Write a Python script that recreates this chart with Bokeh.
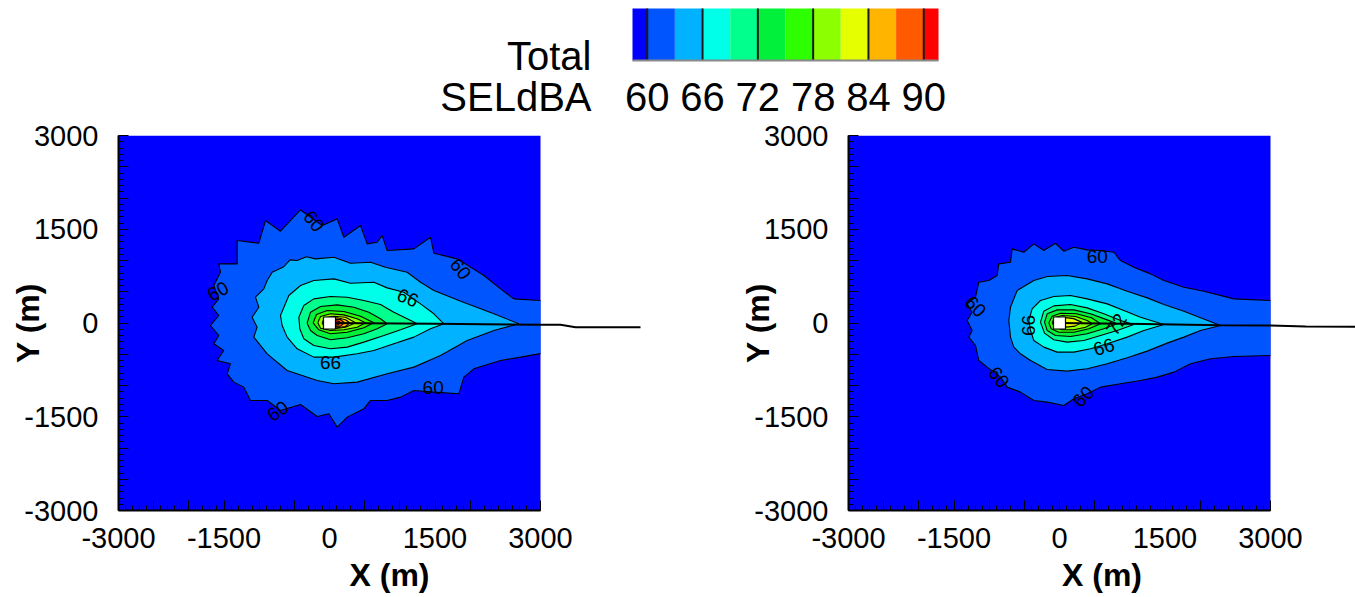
import math

from bokeh.core.properties import value
from bokeh.embed import file_html
from bokeh.layouts import column, row
from bokeh.models import CustomJSTickFormatter, FixedTicker, Range1d
from bokeh.plotting import figure
from bokeh.resources import INLINE

FONT = "Liberation Sans"

# ---------------------------------------------------------------- legend data
levels = [60, 63, 66, 69, 72, 75, 78, 81, 84, 87, 90]
band_colors = ["#0000ff", "#0055ff", "#00b2ff", "#00ffe8", "#00ff8c", "#00f03c",
               "#2eff00", "#8cff00", "#e6ff00", "#ffb400", "#ff5a00", "#ff0000"]
bar_lo, bar_hi = 58.4, 91.6
cbar_ticks = [60, 66, 72, 78, 84, 90]
legend_title = ["Total", "SELdBA"]

# ------------------------------------------------- left panel: contour outlines (m)
left_60 = [(3000, -490), (2716, -546), (2432, -600), (2052, -733), (1910, -866), (1839, -1133),
           (1484, -1106), (1199, -1079), (1010, -1186), (820, -1239), (583, -1239), (488, -1373),
           (251, -1506), (109, -1666), (-9, -1452), (-175, -1495), (-412, -1303), (-697, -1399),
           (-886, -1239), (-1123, -1239), (-1218, -1026), (-1360, -946), (-1455, -813),
           (-1408, -653), (-1597, -600), (-1503, -440), (-1645, -333), (-1574, -200),
           (-1692, -40), (-1574, 120), (-1668, 253), (-1574, 386), (-1645, 600), (-1550, 813),
           (-1574, 946), (-1313, 946), (-1313, 1319), (-1005, 1277), (-910, 1639), (-697, 1469),
           (-412, 1809), (-104, 1559), (109, 1666), (204, 1372), (441, 1559), (536, 1266),
           (678, 1292), (749, 1399), (820, 1159), (1199, 1186), (1436, 1372), (1484, 1117),
           (1815, 1026), (2195, 760), (2432, 546), (2621, 386), (3000, 360)]
left_63 = [(-815, 813), (-650, 900), (-560, 1010), (-460, 999), (-330, 1060), (-199, 1026),
           (62, 1052), (299, 957), (583, 973), (796, 893), (1104, 813), (1294, 653), (1484, 520),
           (1839, 360), (2337, 147), (2692, -13), (2337, -120), (1958, -280), (1578, -520),
           (1199, -706), (820, -813), (393, -946), (62, -973), (-175, -919), (-602, -760),
           (-886, -493), (-1076, -226), (-1029, -67), (-1100, 93), (-1005, 253), (-1052, 413),
           (-934, 546), (-886, 680)]
left_66 = [(-697, 120), (-578, 440), (-412, 600), (-223, 680), (62, 706), (299, 637), (630, 653),
           (820, 562), (1057, 493), (1294, 306), (1484, 147), (1626, -13), (1436, -93),
           (1199, -226), (915, -333), (630, -440), (393, -493), (62, -546), (-223, -546),
           (-460, -413), (-602, -226), (-673, -40)]
left_69 = [(-436, 93), (-365, 280), (-223, 386), (14, 424), (251, 413), (488, 360), (725, 296),
           (915, 173), (1104, 67), (1247, -13), (1010, -109), (773, -200), (488, -306),
           (251, -386), (14, -413), (-223, -360), (-365, -253), (-422, -93)]
left_72 = [(-318, -3), (-270, 173), (-128, 264), (109, 290), (346, 253), (559, 173), (725, 67),
           (820, -13), (678, -93), (488, -173), (251, -237), (14, -269), (-175, -200), (-270, -120)]
left_75 = [(-232, 3), (-185, 136), (-33, 200), (204, 184), (441, 109), (630, 3), (488, -77),
           (251, -147), (14, -173), (-152, -109)]
left_78 = [(-166, 3), (-128, 104), (14, 147), (204, 130), (393, 67), (512, 3), (393, -67),
           (204, -109), (14, -120), (-128, -83)]
left_81 = [(-104, 3), (-71, 83), (62, 109), (228, 93), (370, 3), (228, -67), (62, -93), (-71, -67)]
left_84 = [(-33, 67), (109, 83), (228, 53), (289, 3), (228, -56), (109, -77), (-33, -67)]
left_87 = [(38, 56), (156, 56), (213, 3), (156, -50), (38, -56)]
left_90 = [(62, 40), (133, 29), (156, 3), (118, -29), (62, -35)]

left_track_x = [0, 1500, 3000, 3285, 3498, 4422]
left_track_y = [0, -12, -29, -29, -67, -67]

left_label_x = [-223, 1863, -1588, 1114, 14, 1474, -735]
left_label_y = [1628, 866, 509, 402, -637, -1026, -1410]
left_label_text = ["60", "60", "60", "66", "66", "60", "60"]
left_label_angle = [-0.9, -0.9, 0.5, -0.4, 0.0, 0.0, 0.6]

# ------------------------------------------------ right panel: contour outlines (m)
right_60 = [(3000, 360), (2479, 386), (2052, 509), (1768, 573), (1484, 680), (1294, 786),
            (1057, 893), (867, 999), (773, 1132), (583, 1159), (393, 1170), (204, 1212),
            (62, 1148), (-57, 1276), (-223, 1159), (-365, 1266), (-507, 1132), (-673, 1186),
            (-697, 973), (-863, 946), (-886, 760), (-1005, 680), (-1147, 653), (-1194, 413),
            (-1313, 306), (-1242, 173), (-1313, 40), (-1242, -120), (-1289, -226), (-1194, -360),
            (-1147, -600), (-1029, -706), (-839, -866), (-744, -1026), (-555, -1106),
            (-365, -1239), (-175, -1266), (62, -1319), (204, -1212), (393, -1133), (583, -1026),
            (867, -973), (1152, -919), (1389, -866), (1626, -786), (1863, -653), (2147, -573),
            (2479, -536), (3000, -520)]
right_63 = [(-720, 40), (-697, 253), (-602, 520), (-365, 680), (-175, 744), (109, 759), (393, 706),
            (678, 626), (962, 509), (1247, 402), (1484, 296), (1768, 189), (2005, 83),
            (2289, -40), (2005, -120), (1768, -226), (1531, -322), (1247, -450), (962, -557),
            (678, -653), (393, -733), (109, -770), (-175, -744), (-412, -600), (-555, -493),
            (-649, -386), (-697, -226)]
right_66 = [(-436, 40), (-389, 226), (-270, 360), (-81, 424), (156, 440), (393, 386), (678, 306),
            (915, 200), (1152, 93), (1484, -24), (1199, -120), (962, -226), (678, -333),
            (441, -413), (204, -466), (-33, -466), (-223, -386), (-365, -280), (-412, -120)]
right_69 = [(-270, 13), (-223, 189), (-81, 274), (156, 296), (393, 242), (630, 147), (867, 40),
            (1057, -24), (820, -120), (583, -200), (346, -280), (109, -306), (-81, -269),
            (-213, -162)]
right_72 = [(-213, 13), (-175, 147), (-33, 210), (204, 210), (441, 147), (678, 50), (820, -13),
            (630, -93), (393, -173), (156, -216), (-57, -200), (-175, -120)]
right_75 = [(-152, 3), (-104, 109), (14, 157), (241, 147), (455, 83), (583, -13), (417, -93),
            (204, -147), (-9, -147), (-118, -93)]
right_78 = [(-104, 3), (-71, 83), (38, 120), (228, 104), (393, 40), (465, -13), (370, -67),
            (204, -109), (38, -109), (-66, -67)]
right_81 = [(-50, 60), (60, 90), (200, 70), (320, 10), (220, -50), (60, -70), (-50, -50)]

right_track_x = [0, 1200, 2289, 3000, 3500, 4300]
right_track_y = [0, -15, -35, -40, -55, -60]

right_label_x = [536, -1194, -863, 337, -440, 630, 810]
right_label_y = [1061, 264, -869, -1178, -40, -384, -20]
right_label_text = ["60", "60", "60", "60", "66", "66", "72"]
right_label_angle = [0.0, -0.8, -0.9, 0.8, math.pi / 2, 0.3, 1.0]

source_x = [0]
source_y = [0]

left_contours = [(60, left_60), (63, left_63), (66, left_66), (69, left_69), (72, left_72),
                 (75, left_75), (78, left_78), (81, left_81), (84, left_84), (87, left_87),
                 (90, left_90)]
right_contours = [(60, right_60), (63, right_63), (66, right_66), (69, right_69), (72, right_72),
                  (75, right_75), (78, right_78), (81, right_81)]

PX_PER_M = 422 / 6000.0


def fill_for(level):
    return band_colors[levels.index(level) + 1]


def style_axes(p):
    for ax in (p.xaxis[0], p.yaxis[0]):
        ax.ticker = FixedTicker(ticks=list(range(-3000, 3001, 500)),
                                minor_ticks=list(range(-3000, 3001, 100)))
        ax.formatter = CustomJSTickFormatter(
            code="return (Math.abs(tick) % 1500 === 0) ? tick.toFixed(0) : '';")
        ax.bounds = (-3000, 3000)
        ax.axis_line_width = 2
        ax.axis_line_color = "black"
        ax.major_tick_in = 10
        ax.major_tick_out = 0
        ax.minor_tick_in = 5
        ax.minor_tick_out = 0
        ax.major_tick_line_color = "black"
        ax.minor_tick_line_color = "black"
        ax.major_label_text_font = FONT
        ax.major_label_text_font_size = "29px"
        ax.major_label_text_color = "black"
        ax.axis_label_text_font = FONT
        ax.axis_label_text_font_size = "32px"
        ax.axis_label_text_font_style = "bold"
        ax.axis_label_text_color = "black"
    p.xaxis[0].major_label_standoff = 17
    p.yaxis[0].major_label_standoff = 20
    p.xaxis[0].axis_label = "X (m)"
    p.xaxis[0].axis_label_standoff = 6
    p.yaxis[0].axis_label = "Y (m)"
    p.yaxis[0].axis_label_standoff = -25


def panel(frame_w, border_left, border_right, contours, track_x, track_y,
          lab_x, lab_y, lab_text, lab_angle):
    x_end = -3000 + frame_w / PX_PER_M
    p = figure(frame_width=frame_w, frame_height=375, x_range=Range1d(-3000, x_end),
               y_range=Range1d(-3000, 3000), output_backend="svg", toolbar_location=None,
               min_border_left=border_left, min_border_right=border_right,
               min_border_top=15, min_border_bottom=87)
    p.grid.visible = False
    p.outline_line_color = None
    p.background_fill_color = "white"
    p.border_fill_color = "white"
    style_axes(p)

    # field below the lowest level
    p.quad(left=[-3000], right=[3000], bottom=[-3000], top=[3000],
           fill_color=band_colors[0], line_color=None)

    for level, pts in contours:
        xs = [q[0] for q in pts]
        ys = [q[1] for q in pts]
        p.patch(xs, ys, fill_color=fill_for(level), line_color=None)
        if xs[0] < 3000:
            xs = xs + xs[:1]
            ys = ys + ys[:1]
        p.line(xs, ys, line_color="black", line_width=1.1)

    p.line(track_x, track_y, line_color="black", line_width=2)
    p.scatter(source_x, source_y, marker="square", size=12, fill_color="white",
              line_color="black", line_width=1.2)

    p.text(x=lab_x, y=lab_y, text=lab_text, angle=lab_angle, text_align="center",
           text_baseline="middle", text_font=value(FONT), text_font_size="19px",
           text_color="black")
    return p


left = panel(542, 118, 40, left_contours, left_track_x, left_track_y,
             left_label_x, left_label_y, left_label_text, left_label_angle)
right = panel(507, 148, 0, right_contours, right_track_x, right_track_y,
              right_label_x, right_label_y, right_label_text, right_label_angle)

# ---------------------------------------------------------------- colour legend
# the legend canvas is one frame; x is in dB along the bar, y in pixels from the top
u = (bar_hi - bar_lo) / 306.0
cb = figure(width=1355, height=120,
            x_range=Range1d(bar_lo - 632 * u, bar_lo + (1355 - 632) * u),
            y_range=Range1d(120, 0), output_backend="svg", toolbar_location=None,
            x_axis_location=None, y_axis_location=None, min_border=0)
cb.grid.visible = False
cb.outline_line_color = None
cb.background_fill_color = "white"
cb.border_fill_color = "white"
edges = [bar_lo] + levels + [bar_hi]
cb.quad(left=edges[:-1], right=edges[1:], bottom=60, top=8, fill_color=band_colors,
        line_color=None)
cb.segment(x0=cbar_ticks, y0=8, x1=cbar_ticks, y1=60, line_color="#1a1a1a", line_width=2)
cb.line([bar_lo, bar_hi], [60, 60], line_color="#8a8a8a", line_width=2)
cb.text(x=cbar_ticks, y=[96] * len(cbar_ticks), text=[str(t) for t in cbar_ticks],
        text_align="center", text_baseline="middle", text_font=value(FONT),
        text_font_size="40px", text_color="black")
title_x = bar_lo - (632 - 591) * u
cb.text(x=[title_x, title_x], y=[55, 96], text=legend_title, text_align="right",
        text_baseline="middle", text_font=value(FONT), text_font_size="40px",
        text_color="black")

layout = column(cb, row(left, right))
open("out.html", "w").write(file_html(layout, INLINE))
